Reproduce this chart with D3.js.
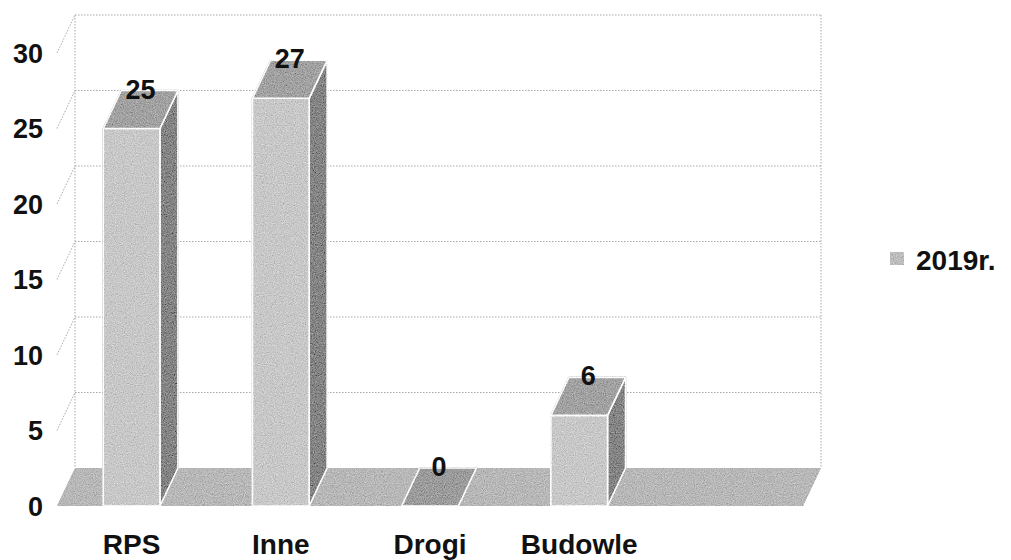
<!DOCTYPE html>
<html><head><meta charset="utf-8">
<script src="https://cdn.jsdelivr.net/npm/d3@7"></script>
<style>
html,body{margin:0;padding:0;background:#fff;}
text{font-family:"Liberation Sans",Arial,sans-serif;font-weight:bold;fill:#111;}
</style></head>
<body>
<svg id="c" width="1011" height="560"></svg>
<script>
const categories = ["RPS", "Inne", "Drogi", "Budowle", ""];
const values2019 = [25, 27, 0, 6, null];
const tickValues = [0, 5, 10, 15, 20, 25, 30];
const seriesName = "2019r.";

const W = 1011, H = 560;
const svg = d3.select("#c");
const DX = 18, DY = -38;

const defs = svg.append("defs");
const f = defs.append("filter").attr("id","grain").attr("x","0").attr("y","0").attr("width","100%").attr("height","100%");
f.append("feTurbulence").attr("type","fractalNoise").attr("baseFrequency","0.9").attr("numOctaves","2").attr("seed","4").attr("result","noise");
f.append("feColorMatrix").attr("in","noise").attr("type","matrix")
 .attr("values","0.33 0.33 0.33 0 0  0.33 0.33 0.33 0 0  0.33 0.33 0.33 0 0  0 0 0 0 1").attr("result","gn");
f.append("feComposite").attr("in","SourceGraphic").attr("in2","gn").attr("operator","arithmetic")
 .attr("k1","0").attr("k2","1").attr("k3","0.8").attr("k4","-0.4").attr("result","mix");
f.append("feComposite").attr("in","mix").attr("in2","SourceGraphic").attr("operator","in");

const x = d3.scaleBand().domain(categories.map((d,i)=>i)).range([57, 803]);
const y = d3.scaleLinear().domain([0, 30]).range([506, 53]);
const barW = x.bandwidth() * 0.38;

const grid = svg.append("g").attr("stroke","#a8a8a8").attr("stroke-width",1).attr("stroke-dasharray","1.5,1.5").attr("fill","none");
const x0 = x.range()[0], x1 = x.range()[1];
tickValues.filter(v=>v>0).forEach(v=>{
  grid.append("line").attr("x1",x0+DX).attr("x2",x1+DX).attr("y1",y(v)+DY).attr("y2",y(v)+DY);
  grid.append("line").attr("x1",x0).attr("x2",x0+DX).attr("y1",y(v)).attr("y2",y(v)+DY);
});
grid.append("line").attr("x1",x0+DX).attr("x2",x0+DX).attr("y1",y(30)+DY).attr("y2",y(0)+DY);
grid.append("line").attr("x1",x1+DX).attr("x2",x1+DX).attr("y1",y(30)+DY).attr("y2",y(0)+DY);

svg.append("g").selectAll("text").data(tickValues).join("text")
  .attr("x",43).attr("y",d=>y(d)).attr("dy","0.36em").attr("text-anchor","end")
  .attr("font-size",27).text(d=>d);

const faces = svg.append("g").attr("filter","url(#grain)");
faces.append("path")
  .attr("d",`M${x0},${y(0)}L${x1},${y(0)}L${x1+DX},${y(0)+DY}L${x0+DX},${y(0)+DY}Z`)
  .attr("fill","#b8b8b8");

const pts = a => a.map(p=>p.join(",")).join(" ");
categories.forEach((c,i)=>{
  const v = values2019[i];
  if (v === null) return;
  const l = x(i) + (x.bandwidth()-barW)/2, r = l + barW;
  const yt = y(v), yb = y(0);
  const g = faces.append("g").attr("stroke","#fff").attr("stroke-width",1.6).attr("stroke-linejoin","round");
  if (v > 0) {
    g.append("polygon").attr("points",pts([[r,yt],[r+DX,yt+DY],[r+DX,yb+DY],[r,yb]])).attr("fill","#858585");
    g.append("polygon").attr("points",pts([[l,yt],[r,yt],[r,yb],[l,yb]])).attr("fill","#c8c8c8");
    g.append("polygon").attr("points",pts([[l,yt],[r,yt],[r+DX,yt+DY],[l+DX,yt+DY]])).attr("fill","#a2a2a2");
  } else {
    g.append("polygon").attr("points",pts([[l,yt],[r,yt],[r+DX,yt+DY],[l+DX,yt+DY]])).attr("fill","#9c9c9c");
  }
});

svg.append("g").selectAll("text").data(values2019.map((v,i)=>({v,i})).filter(d=>d.v!==null)).join("text")
  .attr("x",d=>x(d.i)+x.bandwidth()/2+9).attr("y",d=>y(d.v)-30)
  .attr("text-anchor","middle").attr("font-size",27).text(d=>d.v);

svg.append("g").selectAll("text").data(categories.map((c,i)=>({c,i}))).join("text")
  .attr("x",d=>x(d.i)+x.bandwidth()/2).attr("y",554)
  .attr("text-anchor","middle").attr("font-size",28).text(d=>d.c);

const lg = svg.append("g").attr("transform","translate(890,252)");
lg.append("rect").attr("width",14).attr("height",13).attr("fill","#bdbdbd").attr("filter","url(#grain)");
lg.append("text").attr("x",26).attr("y",18).attr("font-size",28).text(seriesName);
</script>
</body></html>
